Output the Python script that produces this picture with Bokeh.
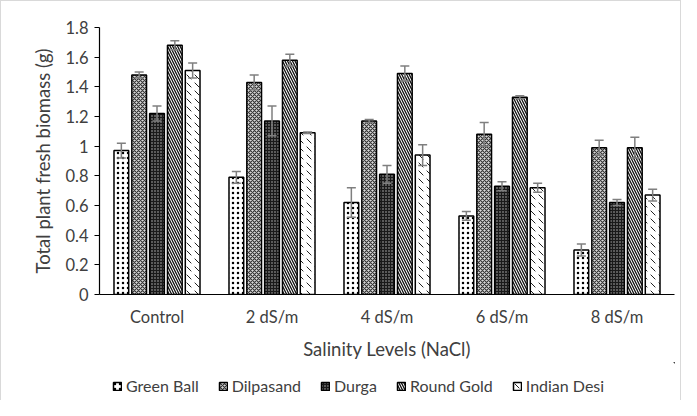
from bokeh.plotting import figure
from bokeh.models import ColumnDataSource, FixedTicker, Legend, LegendItem, FactorRange, Range1d
from bokeh.layouts import column
from bokeh.transform import dodge
from bokeh.embed import file_html
from bokeh.resources import INLINE

categories = ["Control", "2 dS/m", "4 dS/m", "6 dS/m", "8 dS/m"]
series = ["Green Ball", "Dilpasand", "Durga", "Round Gold", "Indian Desi"]

green_ball = [0.97, 0.79, 0.62, 0.53, 0.30]
green_ball_err = [0.05, 0.04, 0.10, 0.03, 0.04]
dilpasand = [1.48, 1.43, 1.17, 1.08, 0.99]
dilpasand_err = [0.02, 0.05, 0.01, 0.08, 0.05]
durga = [1.22, 1.17, 0.81, 0.73, 0.62]
durga_err = [0.05, 0.10, 0.06, 0.03, 0.02]
round_gold = [1.68, 1.58, 1.49, 1.33, 0.99]
round_gold_err = [0.03, 0.04, 0.05, 0.01, 0.07]
indian_desi = [1.51, 1.09, 0.94, 0.72, 0.67]
indian_desi_err = [0.05, 0.005, 0.07, 0.03, 0.04]

y_ticks = [0, 0.2, 0.4, 0.6, 0.8, 1, 1.2, 1.4, 1.6, 1.8]
y_tick_labels = ["0", "0.2", "0.4", "0.6", "0.8", "1", "1.2", "1.4", "1.6", "1.8"]

values = [green_ball, dilpasand, durga, round_gold, indian_desi]
errors = [green_ball_err, dilpasand_err, durga_err, round_gold_err, indian_desi_err]

styles = [
    dict(fill_color="white", hatch_pattern="dot", hatch_color="black", hatch_scale=5, hatch_weight=1.5),
    dict(fill_color="#d8d8d8", hatch_pattern="diagonal_cross", hatch_color="#333333", hatch_scale=4, hatch_weight=1.1),
    dict(fill_color="#1a1a1a", hatch_pattern="dot", hatch_color="#bbbbbb", hatch_scale=3, hatch_weight=1.0),
    dict(fill_color="white", hatch_pattern="left_diagonal_line", hatch_color="#111111", hatch_scale=5, hatch_weight=1.3),
    dict(fill_color="white", hatch_pattern="left_diagonal_dash", hatch_color="#222222", hatch_scale=8, hatch_weight=1.0),
]

FONT = "Lato"
W = 681
EDGE = "#d9d9d9"
LEFT, RIGHT = 99, 7

p = figure(x_range=FactorRange(*categories), y_range=(0, 1.8), width=W, height=362,
           output_backend="svg", toolbar_location=None,
           min_border_left=LEFT, min_border_right=RIGHT, min_border_top=27, min_border_bottom=68)

p.outline_line_color = None
p.xgrid.grid_line_color = None
p.ygrid.grid_line_color = None
p.x_range.range_padding = 0.0
p.border_fill_alpha = 0
p.styles = {"box-shadow": f"inset 1px 1px 0 {EDGE}, inset -1px 0 0 {EDGE}"}

# separate strip for the legend (same side borders so the column keeps frames aligned)
lg = figure(width=W, height=38, output_backend="svg", toolbar_location=None,
            x_range=Range1d(0, 1), y_range=Range1d(0, 1),
            min_border_left=LEFT, min_border_right=RIGHT, min_border_top=0, min_border_bottom=0)
lg.axis.visible = False
lg.grid.visible = False
lg.outline_line_color = None
lg.border_fill_alpha = 0
lg.background_fill_alpha = 0
lg.styles = {"box-shadow": f"inset 1px 0 0 {EDGE}, inset -1px 0 0 {EDGE}"}

step = 0.155
width = 0.128
items = []
for i, (name, vals, errs, st) in enumerate(zip(series, values, errors, styles)):
    off = (i - 2) * step
    src = ColumnDataSource(dict(cat=categories, val=vals,
                                lo=[v - e for v, e in zip(vals, errs)],
                                hi=[v + e for v, e in zip(vals, errs)]))
    p.vbar(x=dodge("cat", off, range=p.x_range), top="val", bottom=0, width=width, source=src,
           line_color="black", line_width=1.5, **st)
    p.segment(x0=dodge("cat", off, range=p.x_range), x1=dodge("cat", off, range=p.x_range),
              y0="lo", y1="hi", source=src, line_color="#7f7f7f", line_width=1.5)
    for key in ("lo", "hi"):
        p.scatter(x=dodge("cat", off, range=p.x_range), y=key, source=src, marker="dash",
                  size=9, line_color="#7f7f7f", line_width=1.5)
    # off-screen proxy so the legend strip can show the swatch
    r = lg.vbar(x=[5], top=[6], bottom=[5], width=0.1, line_color="black", line_width=1.5, **st)
    items.append(LegendItem(label=name, renderers=[r]))

p.yaxis.ticker = FixedTicker(ticks=y_ticks)
p.yaxis.major_label_overrides = {t: l for t, l in zip(y_ticks, y_tick_labels)}
p.yaxis.axis_label = "Total plant fresh biomass (g)"
p.xaxis.axis_label = "Salinity Levels (NaCl)"

for ax in (p.xaxis[0], p.yaxis[0]):
    ax.axis_line_color = "black"
    ax.axis_line_width = 1.2
    ax.minor_tick_line_color = None
    ax.major_label_text_font = FONT
    ax.major_label_text_font_size = "16.5px"
    ax.major_label_text_color = "#404040"
    ax.axis_label_text_font = FONT
    ax.axis_label_text_font_size = "18.5px"
    ax.axis_label_text_font_style = "normal"
    ax.axis_label_text_color = "#404040"

p.yaxis.major_tick_in = 0
p.yaxis.major_tick_out = 5
p.yaxis.major_tick_line_color = "black"
p.yaxis.major_label_standoff = 6
p.yaxis.axis_label_standoff = 8
p.xaxis.major_tick_line_color = None
p.xaxis.major_tick_out = 0
p.xaxis.major_label_standoff = 12
p.xaxis.axis_label_standoff = 8

legend = Legend(items=items, orientation="horizontal", location=(13, 5),
                label_text_font=FONT, label_text_font_size="16px", label_text_color="#404040",
                glyph_width=10, glyph_height=10, spacing=19, label_standoff=4,
                border_line_color=None, background_fill_alpha=0, padding=4, margin=0)
lg.add_layout(legend)

layout = column(p, lg, spacing=0)
open("out.html", "w").write(file_html(layout, INLINE))
